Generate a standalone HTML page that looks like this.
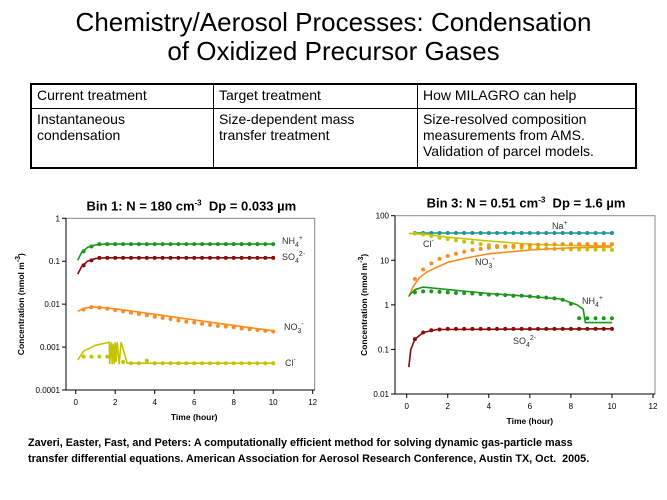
<!DOCTYPE html>
<html><head><meta charset="utf-8"><style>
body{margin:0;background:#fff;width:667px;height:500px;overflow:hidden;position:relative;font-family:"Liberation Sans",sans-serif}
.title{position:absolute;left:0;width:667px;text-align:center;font-size:26px;line-height:29px;top:8px;color:#000}
table{position:absolute;left:30px;top:83px;width:607px;height:86px;border-collapse:collapse;border:2px solid #000;font-size:14px}
td{border:1px solid #000;vertical-align:top;padding:2px 5px;line-height:16px}
.cite{position:absolute;left:28px;top:435px;font-size:10.8px;font-weight:bold;line-height:16px}
svg{position:absolute;left:0;top:0}
</style></head><body>
<div class="title">Chemistry/Aerosol Processes: Condensation<br>of Oxidized Precursor Gases</div>
<table>
<tr style="height:24px"><td style="width:171px">Current treatment</td><td style="width:193px">Target treatment</td><td>How MILAGRO can help</td></tr>
<tr><td>Instantaneous<br>condensation</td><td>Size-dependent mass<br>transfer treatment</td><td>Size-resolved composition<br>measurements from AMS.<br>Validation of parcel models.</td></tr>
</table>
<svg id="chart" width="667" height="500"></svg>
<div class="cite">Zaveri, Easter, Fast, and Peters: A computationally efficient method for solving dynamic gas-particle mass<br>transfer differential equations. American Association for Aerosol Research Conference, Austin TX, Oct.&nbsp; 2005.</div>
<script>
// ---- data: left chart (Bin 1)
const xTicks=[0,2,4,6,8,10,12];
const leftYTicks=[1,0.1,0.01,0.001,0.0001];
const leftYLabels=["1","0.1","0.01","0.001","0.0001"];
const rightYTicks=[100,10,1,0.1,0.01];
const rightYLabels=["100","10","1","0.1","0.01"];
const markT=[0.4,0.8,1.2,1.6,2.0,2.4,2.8,3.2,3.6,4.0,4.4,4.8,5.2,5.6,6.0,6.4,6.8,7.2,7.6,8.0,8.4,8.8,9.2,9.6,10.0];
const L_nh4_t=[0.1,0.3,0.6,1,1.5,10], L_nh4_v=[0.105,0.16,0.21,0.24,0.25,0.25];
const L_nh4_m=[0.17,0.22,0.25,0.25,0.25,0.25,0.25,0.25,0.25,0.25,0.25,0.25,0.25,0.25,0.25,0.25,0.25,0.25,0.25,0.25,0.25,0.25,0.25,0.25,0.25];
const L_so4_t=[0.1,0.3,0.6,1,1.5,10], L_so4_v=[0.05,0.075,0.1,0.115,0.12,0.12];
const L_so4_m=[0.08,0.105,0.12,0.12,0.12,0.12,0.12,0.12,0.12,0.12,0.12,0.12,0.12,0.12,0.12,0.12,0.12,0.12,0.12,0.12,0.12,0.12,0.12,0.12,0.12];
const L_no3_t=[0.1,0.5,1,2,4,6,8,10], L_no3_v=[0.0068,0.0082,0.0086,0.0078,0.0058,0.0043,0.0032,0.0024];
const L_no3_m=[0.0075,0.0085,0.0083,0.0078,0.0073,0.0068,0.0063,0.0059,0.0055,0.0051,0.0048,0.0045,0.0042,0.0039,0.0037,0.0035,0.0033,0.0031,0.003,0.0029,0.0027,0.0026,0.0025,0.0024,0.0023];
const L_cl_t=[0.1,0.4,1,1.7,1.72,1.8,1.85,1.9,1.95,2.0,2.05,2.1,2.2,2.3,2.6,4,10], L_cl_v=[0.0005,0.0008,0.0011,0.0013,0.0004,0.0013,0.0004,0.0012,0.0004,0.0013,0.0005,0.0013,0.0004,0.0013,0.00042,0.00042,0.00042];
const L_cl_m=[0.0006,0.0006,0.0006,0.0006,0.0005,0.00045,0.00042,0.00042,0.00048,0.00042,0.00042,0.00042,0.00042,0.00042,0.00042,0.00042,0.00042,0.00042,0.00042,0.00042,0.00042,0.00042,0.00042,0.00042,0.00042];
// ---- data: right chart (Bin 3)
const R_na_t=[0.3,10], R_na_v=[41,41];
const R_na_m=[41,41,41,41,41,41,41,41,41,41,41,41,41,41,41,41,41,41,41,41,41,41,41,41,41];
const R_cl_t=[0.1,1,2,4,6,8,10], R_cl_v=[40,38,33,27,23,21.5,21];
const R_cl_m=[40,38,35,32,30,28,26,25,23,22,21,20,19.5,19,18.8,18.5,18.2,18,17.8,17.6,17.5,17.4,17.3,17.2,17];
const R_no3_t=[0.1,0.3,0.6,1,2,3,4,6,8,10], R_no3_v=[1.5,2.5,4,5.5,9,11.5,14,17,19,20];
const R_no3_m=[3.8,6.2,8.5,10.8,12.5,14,15.5,17,18,19,19.8,20.5,21,21.5,22,22.3,22.6,22.8,23,23,23,23,23,23,23];
const R_nh4_t=[0.1,0.4,0.8,2,4,6,7.5,8.3,8.6,8.7,10], R_nh4_v=[1.6,2.2,2.5,2.2,1.8,1.55,1.35,1.0,0.8,0.4,0.4];
const R_nh4_m=[1.9,2.0,2.0,1.95,1.9,1.85,1.85,1.8,1.75,1.7,1.7,1.65,1.6,1.6,1.55,1.5,1.45,1.4,1.3,1.05,0.5,0.5,0.5,0.5,0.5];
const R_so4_t=[0.1,0.2,0.4,0.8,1.5,10], R_so4_v=[0.04,0.1,0.17,0.24,0.28,0.29];
const R_so4_m=[0.17,0.24,0.27,0.28,0.29,0.29,0.29,0.29,0.29,0.29,0.29,0.29,0.29,0.29,0.29,0.29,0.29,0.29,0.29,0.29,0.29,0.29,0.29,0.29,0.29];

const NS="http://www.w3.org/2000/svg", svg=document.getElementById('chart');
function mk(tag,at,parent){const e=document.createElementNS(NS,tag);for(const k in at)e.setAttribute(k,at[k]);(parent||svg).appendChild(e);return e;}
function txt(s,x,y,at){const e=mk('text',Object.assign({x:x,y:y,'font-family':'Liberation Sans, sans-serif'},at));e.innerHTML=s;return e;}

function chart(cfg){
  const g=mk('g',{});
  
  
  const X=t=>cfg.x0+t*(cfg.x1-cfg.x0)/12;
  const lt=Math.log10(cfg.ymax), lb=Math.log10(cfg.ymin);
  const Y=v=>cfg.yt+(lt-Math.log10(v))*(cfg.yb-cfg.yt)/(lt-lb);
  const frame=mk('rect',{x:cfg.ax,y:cfg.yt,width:cfg.x1-cfg.ax+2,height:cfg.yb-cfg.yt,fill:'none',stroke:'#888','stroke-width':1},g);
  
  
  mk('line',{x1:cfg.ax,y1:cfg.yt,x2:cfg.ax,y2:cfg.yb,stroke:'#000','stroke-width':1},g);
  mk('line',{x1:cfg.ax,y1:cfg.yb,x2:cfg.x1+2,y2:cfg.yb,stroke:'#000','stroke-width':1},g);
  cfg.yTicks.forEach((v,i)=>{const y=Y(v);mk('line',{x1:cfg.ax-4,y1:y,x2:cfg.ax,y2:y,stroke:'#000'},g);
    const t=txt(cfg.yLabels[i],cfg.ax-6,y+3,{'font-size':8,'text-anchor':'end'});g.appendChild(t);
    });
  xTicks.forEach(v=>{const x=X(v);mk('line',{x1:x,y1:cfg.yb,x2:x,y2:cfg.yb+4,stroke:'#000'},g);
    const t=txt(String(v),x,cfg.yb+15,{'font-size':8,'text-anchor':'middle'});g.appendChild(t);
    });
  const tt=txt(cfg.title,(cfg.ax+cfg.x1)/2+2,cfg.yt-8,{'font-size':13,'font-weight':'bold','text-anchor':'middle'});g.appendChild(tt);
  
  const xt=txt('Time (hour)',(cfg.x0+cfg.x1)/2,cfg.yb+30,{'font-size':8.5,'font-weight':'bold','text-anchor':'middle'});g.appendChild(xt);
  
  const cy=(cfg.yt+cfg.yb)/2, tx=cfg.ytx;
  const yt=txt('Concentration (nmol m<tspan dy="-4" font-size="7">-3</tspan><tspan dy="4">)</tspan>',tx,cy,{'font-size':8.5,'font-weight':'bold','text-anchor':'middle',transform:`rotate(-90 ${tx} ${cy})`});g.appendChild(yt);
  
  cfg.series.forEach(s=>{
    const d=s.t.map((t,i)=>(i?'L':'M')+X(t).toFixed(1)+','+Y(s.v[i]).toFixed(1)).join('');
    const p=mk('path',{d:d,fill:'none',stroke:s.c,'stroke-width':1.6},g);
    
    s.m.forEach((v,i)=>{const c=mk('circle',{cx:X(markT[i]),cy:Y(v),r:2,fill:s.c},g);
      });
    const l=txt(s.label,s.lx,s.ly,{'font-size':9,fill:'#333'});g.appendChild(l);
    
  });
}
chart({name:'bin1-chart',title:'Bin 1: N = 180 cm<tspan dy="-5" font-size="8">-3</tspan><tspan dy="5">&#160; Dp = 0.033 µm</tspan>',
  ax:66,x0:75.7,x1:312.7,yt:218.3,yb:390,ymax:1,ymin:0.0001,yTicks:leftYTicks,yLabels:leftYLabels,ytx:24,
  series:[
   {n:'nh4',c:'#1e961e',t:L_nh4_t,v:L_nh4_v,m:L_nh4_m,label:'NH<tspan dy="3" font-size="7">4</tspan><tspan dy="-7" font-size="7">+</tspan>',lx:282,ly:244},
   {n:'so4',c:'#8b0a0a',t:L_so4_t,v:L_so4_v,m:L_so4_m,label:'SO<tspan dy="3" font-size="7">4</tspan><tspan dy="-7" font-size="7">2-</tspan>',lx:282,ly:260},
   {n:'no3',c:'#ff8a1e',t:L_no3_t,v:L_no3_v,m:L_no3_m,label:'NO<tspan dy="3" font-size="7">3</tspan><tspan dy="-7" font-size="7">-</tspan>',lx:284,ly:330},
   {n:'cl',c:'#c4c400',t:L_cl_t,v:L_cl_v,m:L_cl_m,label:'Cl<tspan dy="-4" font-size="7">-</tspan>',lx:285,ly:366}
  ]});
chart({name:'bin3-chart',title:'Bin 3: N = 0.51 cm<tspan dy="-5" font-size="8">-3</tspan><tspan dy="5">&#160; Dp = 1.6 µm</tspan>',
  ax:395,x0:406.7,x1:653,yt:215.7,yb:394,ymax:100,ymin:0.01,yTicks:rightYTicks,yLabels:rightYLabels,ytx:367,
  series:[
   {n:'na',c:'#1a9696',t:R_na_t,v:R_na_v,m:R_na_m,label:'Na<tspan dy="-4" font-size="7">+</tspan>',lx:552,ly:229},
   {n:'cl',c:'#c4c400',t:R_cl_t,v:R_cl_v,m:R_cl_m,label:'Cl<tspan dy="-4" font-size="7">-</tspan>',lx:423,ly:247},
   {n:'no3',c:'#ff8a1e',t:R_no3_t,v:R_no3_v,m:R_no3_m,label:'NO<tspan dy="3" font-size="7">3</tspan><tspan dy="-7" font-size="7">-</tspan>',lx:475,ly:265},
   {n:'nh4',c:'#1e961e',t:R_nh4_t,v:R_nh4_v,m:R_nh4_m,label:'NH<tspan dy="3" font-size="7">4</tspan><tspan dy="-7" font-size="7">+</tspan>',lx:582,ly:304},
   {n:'so4',c:'#8b0a0a',t:R_so4_t,v:R_so4_v,m:R_so4_m,label:'SO<tspan dy="3" font-size="7">4</tspan><tspan dy="-7" font-size="7">2-</tspan>',lx:513,ly:344}
  ]});
</script>
</body></html>
